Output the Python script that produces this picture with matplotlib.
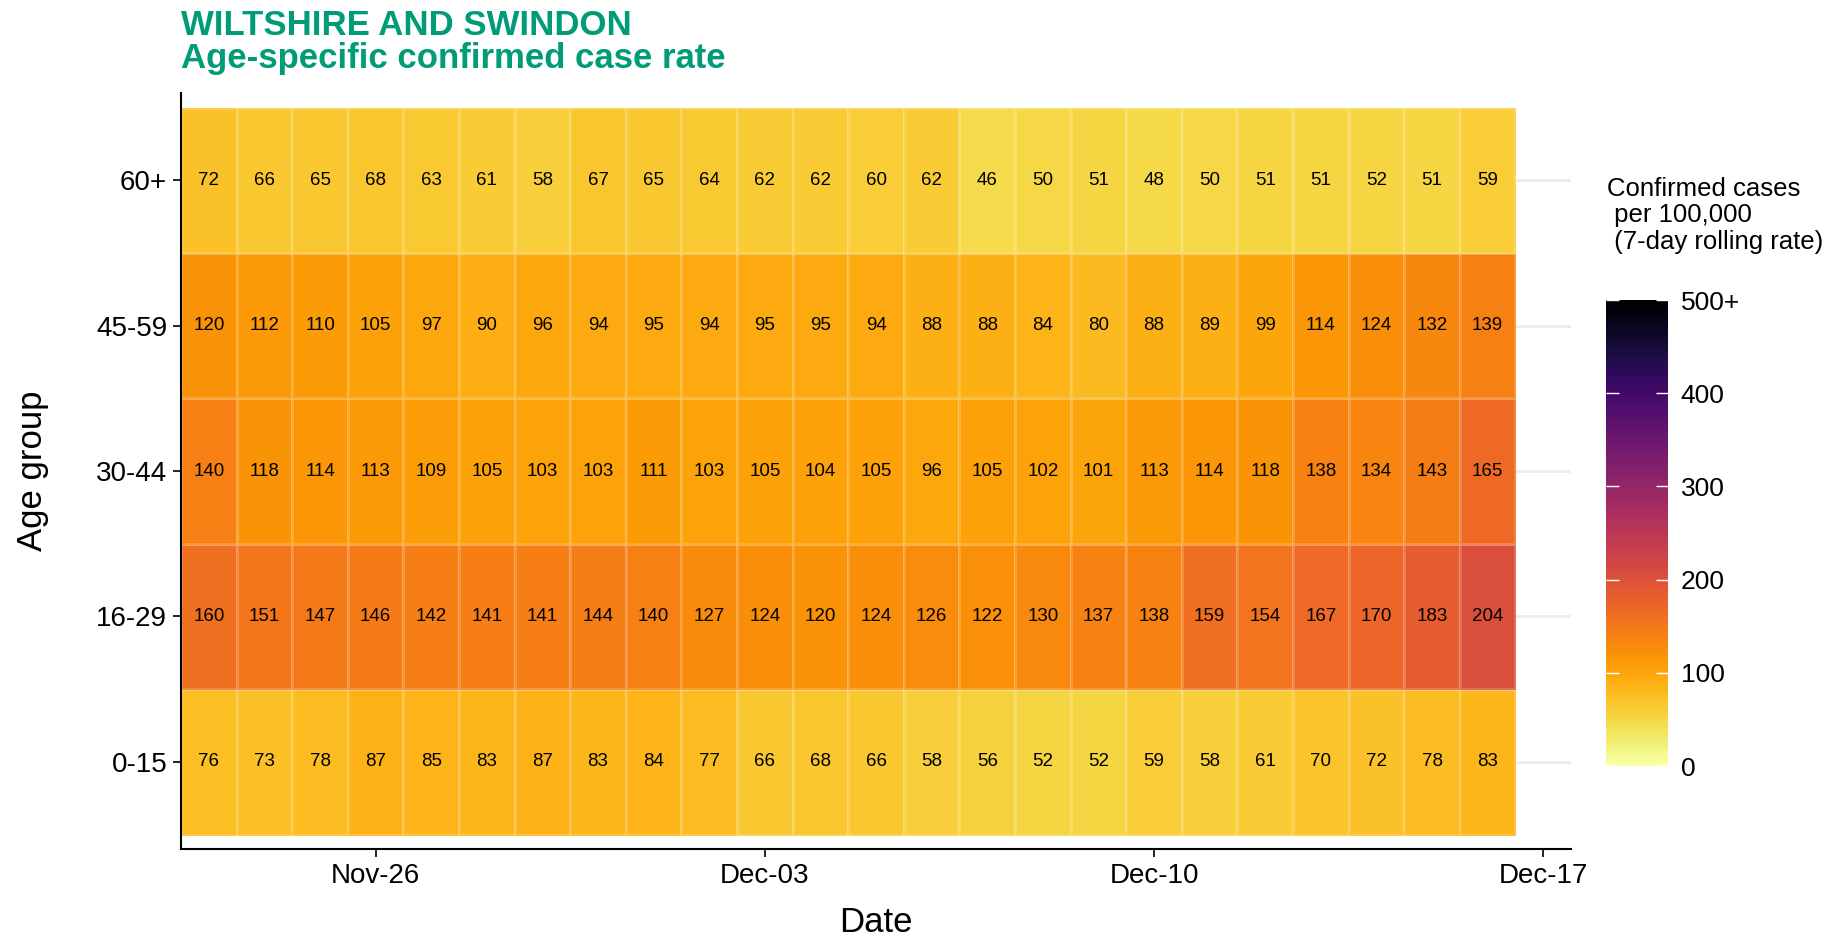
import numpy as np
import pandas as pd
import matplotlib
matplotlib.use('Agg')
import matplotlib.pyplot as plt
import matplotlib.dates as mdates
from matplotlib.colors import Normalize

plt.rcParams['font.family'] = ['Liberation Sans', 'DejaVu Sans']

# dati
age_groups = ['0-15', '16-29', '30-44', '45-59', '60+']
dates = pd.date_range('2020-11-23', '2020-12-16', freq='D')

rate_0_15 = [76, 73, 78, 87, 85, 83, 87, 83, 84, 77, 66, 68, 66, 58, 56, 52, 52, 59, 58, 61, 70, 72, 78, 83]
rate_16_29 = [160, 151, 147, 146, 142, 141, 141, 144, 140, 127, 124, 120, 124, 126, 122, 130, 137, 138, 159, 154, 167, 170, 183, 204]
rate_30_44 = [140, 118, 114, 113, 109, 105, 103, 103, 111, 103, 105, 104, 105, 96, 105, 102, 101, 113, 114, 118, 138, 134, 143, 165]
rate_45_59 = [120, 112, 110, 105, 97, 90, 96, 94, 95, 94, 95, 95, 94, 88, 88, 84, 80, 88, 89, 99, 114, 124, 132, 139]
rate_60 = [72, 66, 65, 68, 63, 61, 58, 67, 65, 64, 62, 62, 60, 62, 46, 50, 51, 48, 50, 51, 51, 52, 51, 59]

cbar_ticks = [0, 100, 200, 300, 400, 500]
cbar_labels = ['0', '100', '200', '300', '400', '500+']
xtick_dates = pd.to_datetime(['2020-11-26', '2020-12-03', '2020-12-10', '2020-12-17'])

Z = np.array([rate_0_15, rate_16_29, rate_30_44, rate_45_59, rate_60], dtype=float)

green = '#009B77'
cmap = plt.get_cmap('inferno_r')
norm = Normalize(0, 500)

fig = plt.figure(figsize=(18.42, 9.36), dpi=100)
ax = fig.add_axes([0.0983, 0.0929, 0.7546, 0.8077])

x_num = mdates.date2num(dates)
x_edges = np.append(x_num - 0.5, x_num[-1] + 0.5)
y_edges = np.arange(len(age_groups) + 1) - 0.5

ax.grid(axis='y', color='#ECECE4', linewidth=2, zorder=0)
ax.set_axisbelow(True)
mesh = ax.pcolormesh(x_edges, y_edges, Z, cmap=cmap, norm=norm,
                     edgecolors=(1, 1, 1, 0.18), linewidth=0.8, zorder=2)

for i in range(Z.shape[0]):
    for j in range(Z.shape[1]):
        ax.text(x_num[j], i, f'{int(Z[i, j])}', ha='center', va='center',
                fontsize=13.5, color='black', zorder=3)

ax.set_xlim(x_num[0] - 0.5, mdates.date2num(pd.Timestamp('2020-12-17')) + 0.5)
ax.set_ylim(-0.6, len(age_groups) - 0.4)
ax.set_yticks(range(len(age_groups)))
ax.set_yticklabels(age_groups)
ax.set_xticks(mdates.date2num(xtick_dates))
ax.set_xticklabels([d.strftime('%b-%d') for d in xtick_dates])

for s in ['top', 'right']:
    ax.spines[s].set_visible(False)
for s in ['left', 'bottom']:
    ax.spines[s].set_linewidth(1.5)
ax.tick_params(axis='both', labelsize=20, length=6, width=1.2, pad=4, colors='black')

ax.set_xlabel('Date', fontsize=25, labelpad=12)
ax.set_ylabel('Age group', fontsize=25, labelpad=34)

fig.text(181 / 1842, 1 - 35 / 936, 'WILTSHIRE AND SWINDON', fontsize=25,
         fontweight='bold', color=green, va='baseline', ha='left')
fig.text(181 / 1842, 1 - 68 / 936, 'Age-specific confirmed case rate', fontsize=25,
         fontweight='bold', color=green, va='baseline', ha='left')

# barra colori
cax = fig.add_axes([1606 / 1842, 1 - 766 / 936, 62 / 1842, 466 / 936])
cb = fig.colorbar(mesh, cax=cax)
cb.outline.set_visible(False)
cb.set_ticks(cbar_ticks)
cb.set_ticklabels(cbar_labels)
cax.yaxis.set_ticks_position('both')
cax.tick_params(axis='y', direction='in', length=9, width=1, colors='white',
                labelcolor='black', labelsize=19, pad=9, labelleft=False, labelright=True)

fig.text(1607 / 1842, 1 - 177 / 936, 'Confirmed cases\n per 100,000\n (7-day rolling rate)',
         fontsize=18.5, va='top', ha='left', linespacing=1.13)

fig.savefig('out.png', dpi=100)
